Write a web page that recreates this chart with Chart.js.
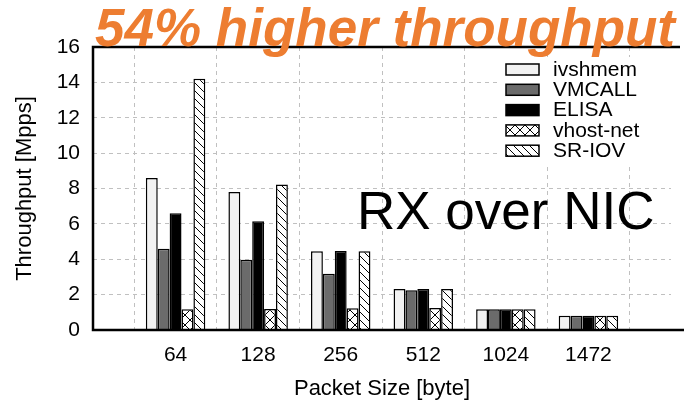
<!DOCTYPE html>
<html>
<head>
<meta charset="utf-8">
<script src="https://cdn.jsdelivr.net/npm/chart.js@4"></script>
<style>
  html, body { margin: 0; padding: 0; background: #fff; }
  #wrap { width: 684px; height: 402px; }
</style>
</head>
<body>
<div id="wrap"><canvas id="rxChart"></canvas></div>
<script>
// packet sizes, blank slots at both ends keep the gap seen on the plot
const packetSizes = ['', '64', '128', '256', '512', '1024', '1472', ''];
const ivshmem  = [null, 8.6, 7.8, 4.45, 2.32, 1.17, 0.81, null];
const vmcall   = [null, 4.6, 3.97, 3.18, 2.25, 1.17, 0.81, null];
const elisa    = [null, 6.6, 6.15, 4.47, 2.32, 1.17, 0.81, null];
const vhostNet = [null, 1.17, 1.19, 1.23, 1.24, 1.17, 0.81, null];
const srIov    = [null, 14.2, 8.23, 4.45, 2.32, 1.17, 0.81, null];
const yTicks   = [0, 2, 4, 6, 8, 10, 12, 14, 16];

const FONT = 'Liberation Sans, Arial, sans-serif';

function hatch(kind) {
    const size = kind === 'cross' ? 10 : 8;
    const c = document.createElement('canvas');
    c.width = c.height = size;
    const g = c.getContext('2d');
    g.fillStyle = '#fff';
    g.fillRect(0, 0, size, size);
    g.strokeStyle = '#000';
    g.lineWidth = 1;
    g.beginPath();
    // "\" lines
    g.moveTo(-1, -1); g.lineTo(size + 1, size + 1);
    g.moveTo(-1, size - 1); g.lineTo(1, size + 1);
    g.moveTo(size - 1, -1); g.lineTo(size + 1, 1);
    if (kind === 'cross') {
        g.moveTo(size + 1, -1); g.lineTo(-1, size + 1);
        g.moveTo(1, -1); g.lineTo(-1, 1);
        g.moveTo(size + 1, size - 1); g.lineTo(size - 1, size + 1);
    }
    g.stroke();
    return g.createPattern(c, 'repeat');
}

const pCross = hatch('cross');
const pDiag = hatch('diag');

const series = [
    { label: 'ivshmem', data: ivshmem, backgroundColor: '#f2f2f2' },
    { label: 'VMCALL', data: vmcall, backgroundColor: '#6b6b6b' },
    { label: 'ELISA', data: elisa, backgroundColor: '#000000' },
    { label: 'vhost-net', data: vhostNet, backgroundColor: pCross },
    { label: 'SR-IOV', data: srIov, backgroundColor: pDiag }
];

const extras = {
    id: 'extras',
    afterDraw(chart) {
        const ctx = chart.ctx;
        const area = chart.chartArea;
        ctx.save();

        // frame: left, bottom, top
        ctx.strokeStyle = '#000';
        ctx.lineWidth = 2.5;
        ctx.setLineDash([]);
        ctx.beginPath();
        ctx.moveTo(680, area.top);
        ctx.lineTo(area.left, area.top);
        ctx.lineTo(area.left, area.bottom);
        ctx.lineTo(684, area.bottom);
        ctx.stroke();

        // legend box
        ctx.fillStyle = '#fff';
        ctx.fillRect(498, 57, 174, 106);
        chart.data.datasets.forEach((ds, i) => {
            const y = 69 + i * 20.3;
            ctx.fillStyle = ds.backgroundColor;
            ctx.fillRect(506, y - 5, 33, 11);
            ctx.strokeStyle = '#000';
            ctx.lineWidth = 1.5;
            ctx.strokeRect(506, y - 5, 33, 11);
            ctx.fillStyle = '#000';
            ctx.font = '21px ' + FONT;
            ctx.textBaseline = 'middle';
            ctx.textAlign = 'left';
            ctx.fillText(ds.label, 553, y + 1);
        });

        // inline label
        ctx.fillStyle = '#000';
        ctx.font = '53px ' + FONT;
        ctx.textBaseline = 'alphabetic';
        ctx.fillText('RX over NIC', 357, 229);

        // headline
        ctx.fillStyle = '#ed7d31';
        ctx.font = 'italic bold 53px ' + FONT;
        ctx.fillText('54% higher throughput', 95, 46);
        ctx.restore();
    }
};

new Chart(document.getElementById('rxChart'), {
    type: 'bar',
    data: {
        labels: packetSizes,
        datasets: series.map(s => ({
            label: s.label,
            data: s.data,
            backgroundColor: s.backgroundColor,
            borderColor: '#000',
            borderWidth: 1.5,
            borderSkipped: 'start',
            categoryPercentage: 0.72,
            barPercentage: 1.0
        }))
    },
    plugins: [extras],
    options: {
        responsive: true,
        maintainAspectRatio: false,
        animation: false,
        layout: { padding: { top: 47, right: 0, left: 0, bottom: 0 } },
        plugins: {
            legend: { display: false },
            tooltip: { enabled: false }
        },
        scales: {
            x: {
                offset: false,
                afterFit: (s) => { s.height = 72; },
                grid: {
                    color: '#c0c0c0',
                    lineWidth: 1,
                    drawTicks: false
                },
                border: { display: false, dash: [4, 4] },
                ticks: {
                    padding: 13,
                    color: '#000',
                    font: { family: FONT, size: 21 },
                    maxRotation: 0,
                    autoSkip: false
                },
                title: {
                    display: true,
                    text: 'Packet Size [byte]',
                    color: '#000',
                    font: { family: FONT, size: 22 },
                    padding: { top: 0, bottom: 0 }
                }
            },
            y: {
                min: 0,
                max: 16,
                afterFit: (s) => { s.width = 93; },
                afterBuildTicks: (s) => { s.ticks = yTicks.map(v => ({ value: v })); },
                grid: {
                    color: '#c0c0c0',
                    lineWidth: 1,
                    drawTicks: false
                },
                border: { display: false, dash: [4, 4] },
                ticks: {
                    padding: 13,
                    color: '#000',
                    font: { family: FONT, size: 21 }
                },
                title: {
                    display: true,
                    text: 'Throughput [Mpps]',
                    color: '#000',
                    font: { family: FONT, size: 22 },
                    padding: { top: 12, bottom: 0 }
                }
            }
        }
    }
});
</script>
</body>
</html>
